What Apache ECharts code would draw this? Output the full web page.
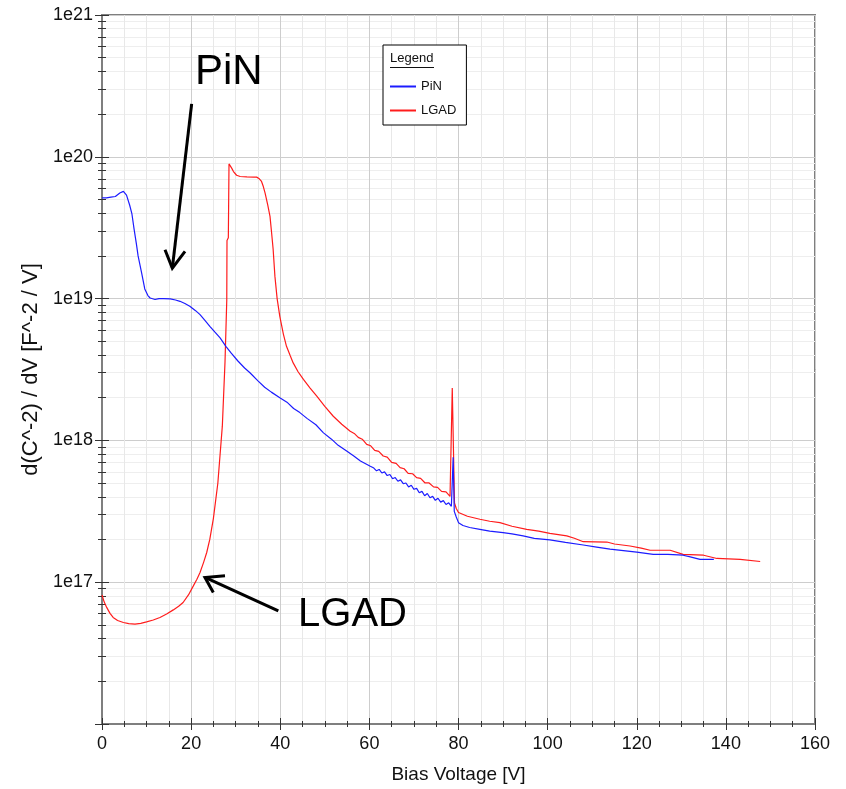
<!DOCTYPE html>
<html><head><meta charset="utf-8">
<script src="https://cdn.jsdelivr.net/npm/echarts@6/dist/echarts.min.js"></script>
<style>html,body{margin:0;padding:0;background:#fff}#c{width:846px;height:789px}</style>
</head><body><div id="c"></div>
<script>
// ---------------- data ----------------
const pinV = [0,1,2,3,4,4.8,5.5,6.2,6.7,7.2,7.7,8.1,8.9,9.6,10.3,10.8,11.9,12.8,13.8,15.3,16.5,17.5,18.6,19.7,21,22,23,24.2,25.3,26.5,27.8,29,30.5,32,33.2,35,36.5,38,39.9,41.5,43,44.4,46,48,49.7,51.5,53,54.9,56.5,58,60.1,
  61.0,61.6,62.2,62.8,63.4,64.0,64.6,65.2,65.8,66.4,67.0,67.6,68.2,68.8,69.4,70.0,70.6,71.2,71.8,72.4,73.0,73.6,74.2,74.8,75.4,76.0,76.6,77.2,77.8,78.4,78.7,78.8,78.95,79.05,79.5,80.0,
  81,82.5,84.8,87,90,92,94.5,97,100.5,104,108,111,114,117,120,123.7,127,130.4,132,134.2,137.3];
const pinY = [5.13e19,5.13e19,5.19e19,5.25e19,5.56e19,5.70e19,5.37e19,4.57e19,3.98e19,3.09e19,2.45e19,2.00e19,1.51e19,1.17e19,1.05e19,1.01e19,9.85e18,1.00e19,1.00e19,9.95e18,9.77e18,9.57e18,9.23e18,8.83e18,8.22e18,7.71e18,7.08e18,6.38e18,5.82e18,5.28e18,4.61e18,4.12e18,3.63e18,3.24e18,3.00e18,2.63e18,2.37e18,2.19e18,2.00e18,1.86e18,1.68e18,1.57e18,1.43e18,1.29e18,1.13e18,1.02e18,9.23e17,8.41e17,7.76e17,7.16e17,6.59e17,
  6.38e17,6.10e17,6.24e17,5.89e17,6.00e17,5.65e17,5.75e17,5.37e17,5.47e17,5.15e17,5.27e17,4.95e17,5.01e17,4.70e17,4.83e17,4.52e17,4.59e17,4.27e17,4.37e17,4.07e17,4.22e17,3.94e17,4.03e17,3.78e17,3.91e17,3.67e17,3.76e17,3.53e17,3.63e17,3.43e17,3.51e17,7.59e17,7.41e17,3.16e17,2.88e17,2.63e17,
  2.51e17,2.43e17,2.36e17,2.29e17,2.24e17,2.19e17,2.12e17,2.04e17,1.99e17,1.91e17,1.83e17,1.77e17,1.71e17,1.67e17,1.63e17,1.57e17,1.57e17,1.55e17,1.51e17,1.45e17,1.45e17];

const lgadV = [0,0.5,1.05,1.8,2.5,3.5,4.8,6,7.4,8.7,10,11.5,13,14.5,16,17.2,18.2,19.4,20.5,21.3,22,22.8,23.5,24.2,25,26,27,27.6,28.0,28.05,28.35,28.5,28.7,29.1,29.5,30.2,31,32.5,34,34.7,35.3,35.8,36.2,36.6,37.2,37.7,38.1,38.4,38.8,39.3,39.9,40.7,41.4,42.2,42.9,44,45.2,46.7,48.2,50,51.9,53.8,55.7,
  56.6,57.5,58.4,59.4,60.3,61.2,62.1,63.1,64.0,65.0,66.0,66.9,67.8,68.7,69.7,70.6,71.5,72.5,73.4,74.4,75.3,76.2,77.2,78.1,78.5,78.6,79.0,79.1,79.5,80,
  82,84.8,87,89.3,92,95.3,98,100.5,104.3,106,108,113.3,115,118.5,121,123,127.5,130.4,135,138,143.2,147.7];
const lgadY = [8.13e16,7.24e16,6.64e16,6.03e16,5.64e16,5.37e16,5.20e16,5.11e16,5.06e16,5.13e16,5.25e16,5.41e16,5.64e16,5.96e16,6.38e16,6.76e16,7.19e16,8.13e16,9.42e16,1.05e17,1.17e17,1.38e17,1.62e17,2.01e17,2.82e17,5.01e17,1.26e18,3.55e18,9.77e18,2.57e19,2.69e19,8.91e19,9.04e19,8.32e19,7.87e19,7.41e19,7.26e19,7.21e19,7.19e19,7.19e19,7.00e19,6.70e19,6.17e19,5.55e19,4.57e19,3.80e19,2.82e19,2.24e19,1.44e19,1.00e19,7.50e18,5.62e18,4.61e18,3.98e18,3.52e18,3.05e18,2.69e18,2.34e18,2.05e18,1.74e18,1.48e18,1.30e18,1.16e18,
  1.12e18,1.05e18,1.02e18,9.38e17,9.16e17,8.51e17,8.36e17,7.76e17,7.62e17,7.00e17,6.89e17,6.43e17,6.31e17,5.86e17,5.82e17,5.46e17,5.40e17,5.01e17,5.01e17,4.70e17,4.66e17,4.37e17,4.33e17,4.03e17,3.98e17,2.34e18,2.34e18,3.63e17,3.31e17,3.10e17,
  2.92e17,2.78e17,2.69e17,2.63e17,2.48e17,2.36e17,2.29e17,2.21e17,2.12e17,2.04e17,1.93e17,1.92e17,1.86e17,1.80e17,1.74e17,1.68e17,1.68e17,1.57e17,1.55e17,1.47e17,1.45e17,1.40e17];

const seriesNames = ['PiN', 'LGAD'];
const xTickValues = [0, 20, 40, 60, 80, 100, 120, 140, 160];
const yDecadeExp = [16, 17, 18, 19, 20, 21];
const yLabelExp = [17, 18, 19, 20, 21];
const xAxisTitle = 'Bias Voltage [V]';
const yAxisTitle = 'd(C^-2) / dV [F^-2 / V]';

// ---------------- chart ----------------
const FONT = '"Liberation Sans", Arial, sans-serif';
const AXIS_GRAY = '#7f7f7f';
const TICK = '#333';
const toPairs = (xs, ys) => xs.map((x, i) => [x, ys[i]]);
const minorPos = [];
yDecadeExp.slice(0, -1).forEach(e => { for (let k = 2; k <= 9; k++) minorPos.push(e + Math.log10(k)); });

const chart = echarts.init(document.getElementById('c'), null, {renderer: 'canvas'});
const hiddenY = {type: 'value', min: yDecadeExp[0], max: yDecadeExp[yDecadeExp.length - 1], position: 'left',
  axisLine: {show: false}, axisLabel: {show: false}, splitLine: {show: false}};
const option = {
  animation: false,
  backgroundColor: '#fff',
  grid: {left: 102, right: 31, top: 15, bottom: 64, show: true, borderColor: AXIS_GRAY, borderWidth: 2, containLabel: false},
  legend: {
    data: seriesNames, orient: 'vertical', left: 383, top: 45,
    padding: [35, 10, 8, 7], itemGap: 11, itemWidth: 26, itemHeight: 2, icon: 'rect',
    borderColor: '#000', borderWidth: 1, backgroundColor: '#fff',
    textStyle: {fontSize: 13, fontFamily: FONT, color: '#111', padding: [0, 0, 0, 0]}, itemStyle: {borderWidth: 0}
  },
  xAxis: [
    {type: 'value', min: 0, max: 160, interval: 20, position: 'bottom',
      axisLine: {show: true, onZero: false, lineStyle: {color: AXIS_GRAY, width: 2}},
      axisTick: {show: true, inside: false, length: 6, lineStyle: {color: TICK}},
      minorTick: {show: true, splitNumber: 4, length: 3, lineStyle: {color: TICK}},
      splitLine: {show: true, lineStyle: {color: '#cdcdcd', width: 1}},
      minorSplitLine: {show: true, lineStyle: {color: '#e8e8e8', width: 1}},
      axisLabel: {fontSize: 18, fontFamily: FONT, color: '#111', margin: 11,
        formatter: v => xTickValues.includes(v) ? String(v) : ''},
      name: xAxisTitle, nameLocation: 'middle', nameGap: 41,
      nameTextStyle: {fontSize: 19, fontFamily: FONT, color: '#111'}},
    {type: 'value', min: 0, max: 160, interval: 20, position: 'bottom',
      axisLine: {show: false, onZero: false},
      axisTick: {show: true, inside: true, length: 6, lineStyle: {color: TICK}},
      minorTick: {show: true, splitNumber: 4, length: 3, lineStyle: {color: TICK}},
      splitLine: {show: false}, axisLabel: {show: false}}
  ],
  yAxis: [
    {type: 'log', logBase: 10, min: Math.pow(10, yDecadeExp[0]), max: Math.pow(10, yDecadeExp[yDecadeExp.length - 1]),
      position: 'left',
      axisLine: {show: true, onZero: false, lineStyle: {color: AXIS_GRAY, width: 2}},
      axisTick: {show: true, inside: false, length: 7, lineStyle: {color: TICK}},
      splitLine: {show: true, lineStyle: {color: '#cdcdcd', width: 1}},
      axisLabel: {fontSize: 18, fontFamily: FONT, color: '#111', margin: 9,
        formatter: v => { const e = Math.round(Math.log10(v)); return yLabelExp.includes(e) ? '1e' + e : ''; }},
      name: yAxisTitle, nameLocation: 'middle', nameGap: 53, nameRotate: 90,
      nameTextStyle: {fontSize: 22, fontFamily: FONT, color: '#111'}},
    Object.assign({}, hiddenY, {axisTick: {show: true, inside: true, length: 7, customValues: yDecadeExp, lineStyle: {color: TICK}}}),
    Object.assign({}, hiddenY, {axisTick: {show: true, inside: false, length: 4, customValues: minorPos, lineStyle: {color: TICK}},
      splitLine: {show: true, lineStyle: {color: '#eeeeee', width: 1}}}),
    Object.assign({}, hiddenY, {axisTick: {show: true, inside: true, length: 4, customValues: minorPos, lineStyle: {color: TICK}}})
  ],
  series: [
    {name: seriesNames[0], type: 'line', xAxisIndex: 0, yAxisIndex: 0, data: toPairs(pinV, pinY),
      showSymbol: false, symbol: 'none', lineStyle: {color: '#1c1cff', width: 1.2}, itemStyle: {color: '#1c1cff'}, z: 3},
    {name: seriesNames[1], type: 'line', xAxisIndex: 0, yAxisIndex: 0, data: toPairs(lgadV, lgadY),
      showSymbol: false, symbol: 'none', lineStyle: {color: '#ff1c1c', width: 1.2}, itemStyle: {color: '#ff1c1c'}, z: 2}
  ]
};
chart.setOption(option);

// ---------------- annotations (anchored in data space) ----------------
const annot = {
  pinText: [20.87, 4.04e20], pinArrow: [[20.12, 2.36e20], [15.78, 1.64e19]], pinHead: [[14.14, 2.21e19], [15.78, 1.64e19], [18.63, 2.15e19]],
  lgadText: [44.0, 6.1e16], lgadArrow: [[39.57, 6.28e16], [23.11, 1.08e17]], lgadHead: [[24.98, 8.45e16], [23.11, 1.08e17], [27.6, 1.11e17]]
};
const px = p => chart.convertToPixel({xAxisIndex: 0, yAxisIndex: 0}, p);
const stroke = {stroke: '#000', lineWidth: 3, fill: null};
const T = px(annot.pinText), L = px(annot.lgadText);
chart.setOption({graphic: [
  {type: 'polyline', shape: {points: annot.pinArrow.map(px)}, style: stroke, z: 100},
  {type: 'polyline', shape: {points: annot.pinHead.map(px)}, style: stroke, z: 100},
  {type: 'polyline', shape: {points: annot.lgadArrow.map(px)}, style: stroke, z: 100},
  {type: 'polyline', shape: {points: annot.lgadHead.map(px)}, style: stroke, z: 100},
  {type: 'text', x: T[0], y: T[1] + 2, style: {text: 'PiN', fontSize: 42, fontFamily: FONT, fill: '#000', verticalAlign: 'middle'}, z: 100},
  {type: 'text', x: L[0], y: L[1] + 2, style: {text: 'LGAD', fontSize: 40, fontFamily: FONT, fill: '#000', verticalAlign: 'middle'}, z: 100},
  {type: 'text', x: 390, y: 52, style: {text: 'Legend', fontSize: 13, fontFamily: FONT, fill: '#111'}, z: 100},
  {type: 'line', shape: {x1: 390, y1: 67.5, x2: 434, y2: 67.5}, style: {stroke: '#111', lineWidth: 1}, z: 100}
]});
</script></body></html>
